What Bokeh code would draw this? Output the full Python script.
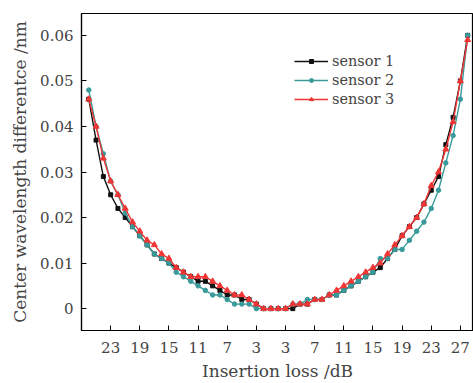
from bokeh.plotting import figure
from bokeh.models import (Range1d, FixedTicker, CustomJSTickFormatter, Legend, LegendItem)
from bokeh.embed import file_html
from bokeh.resources import INLINE

# ---------------- data ----------------
# position index along the insertion-loss axis (1 dB per step)
position = list(range(-3, 50))

sensor1 = [0.046, 0.037, 0.029, 0.025, 0.022, 0.020, 0.018, 0.016, 0.014, 0.012,
           0.011, 0.010, 0.009, 0.008, 0.007, 0.006, 0.006, 0.005, 0.004, 0.003,
           0.003, 0.002, 0.002, 0.001, 0.0, 0.0, 0.0, 0.0, 0.0, 0.001,
           0.001, 0.002, 0.002, 0.003, 0.003, 0.004, 0.005, 0.006, 0.007, 0.008,
           0.009, 0.011, 0.013, 0.016, 0.018, 0.020, 0.023, 0.026, 0.029, 0.036,
           0.042, 0.050, 0.060]

sensor2 = [0.048, 0.040, 0.034, 0.028, 0.025, 0.021, 0.018, 0.016, 0.014, 0.012,
           0.011, 0.010, 0.008, 0.007, 0.006, 0.005, 0.004, 0.003, 0.003, 0.002,
           0.001, 0.001, 0.001, 0.0, 0.0, 0.0, 0.0, 0.0, 0.001, 0.001,
           0.002, 0.002, 0.002, 0.003, 0.003, 0.004, 0.005, 0.006, 0.007, 0.008,
           0.011, 0.011, 0.013, 0.013, 0.015, 0.017, 0.019, 0.022, 0.026, 0.032,
           0.038, 0.046, 0.060]

sensor3 = [0.046, 0.040, 0.033, 0.028, 0.025, 0.022, 0.019, 0.017, 0.015, 0.014,
           0.012, 0.011, 0.009, 0.008, 0.007, 0.007, 0.007, 0.006, 0.005, 0.004,
           0.003, 0.003, 0.002, 0.001, 0.0, 0.0, 0.0, 0.0, 0.001, 0.001,
           0.001, 0.002, 0.002, 0.003, 0.004, 0.005, 0.006, 0.007, 0.008, 0.009,
           0.010, 0.012, 0.014, 0.016, 0.018, 0.020, 0.023, 0.027, 0.030, 0.035,
           0.041, 0.050, 0.059]

x_tick_positions = [0, 4, 8, 12, 16, 20, 24, 28, 32, 36, 40, 44, 48]
x_tick_labels = ["23", "19", "15", "11", "7", "3", "3", "7", "11", "15", "19", "23", "27"]
y_ticks = [0, 0.01, 0.02, 0.03, 0.04, 0.05, 0.06]

series_names = ["sensor 1", "sensor 2", "sensor 3"]
series_colors = ["#111111", "#3a9a9a", "#f03535"]
series_markers = ["square", "circle", "triangle"]
series_sizes = [4, 4.5, 6]

FONT = "DejaVu Serif"

p = figure(width=473, height=383, output_backend="svg", toolbar_location=None,
           x_range=Range1d(-4, 49.8), y_range=Range1d(-0.0048, 0.0648),
           min_border_left=81, min_border_right=0, min_border_top=13, min_border_bottom=51)
p.xgrid.visible = False
p.ygrid.visible = False
p.outline_line_color = "black"
p.outline_line_width = 1.2
p.background_fill_color = "white"
p.border_fill_color = "white"

items = []
for vals, name, col, mk, sz in zip([sensor1, sensor2, sensor3], series_names,
                                   series_colors, series_markers, series_sizes):
    ln = p.line(position, vals, line_color=col, line_width=1.4)
    sc = p.scatter(position, vals, marker=mk, size=sz, fill_color=col, line_color=col)
    items.append(LegendItem(label=name, renderers=[ln, sc]))

legend = Legend(items=items, location=(213, 222), background_fill_alpha=0,
                border_line_alpha=0, padding=0, margin=0, spacing=0,
                glyph_width=34, glyph_height=10, label_height=19,
                label_standoff=4, label_text_font=FONT, label_text_font_size="14.5px")
p.add_layout(legend, "center")

for ax in (p.xaxis[0], p.yaxis[0]):
    ax.axis_line_width = 1.2
    ax.major_tick_in = 5
    ax.major_tick_out = 0
    ax.minor_tick_line_color = None
    ax.major_label_text_font = FONT
    ax.major_label_text_font_size = "15px"
    ax.axis_label_text_font = FONT
    ax.axis_label_text_font_size = "17px"
    ax.axis_label_text_font_style = "normal"

p.xaxis.ticker = FixedTicker(ticks=x_tick_positions)
p.xaxis.major_label_overrides = {t: l for t, l in zip(x_tick_positions, x_tick_labels)}
p.xaxis.axis_label = "Insertion loss /dB"
p.xaxis.major_label_standoff = 11
p.xaxis.axis_label_standoff = 5

p.yaxis.ticker = FixedTicker(ticks=y_ticks)
p.yaxis.formatter = CustomJSTickFormatter(code="return tick == 0 ? '0' : tick.toFixed(2);")
p.yaxis.axis_label = "Center wavelength differentce /nm"
p.yaxis.major_label_standoff = 8
p.yaxis.axis_label_standoff = 7

open("out.html", "w").write(file_html(p, INLINE))
